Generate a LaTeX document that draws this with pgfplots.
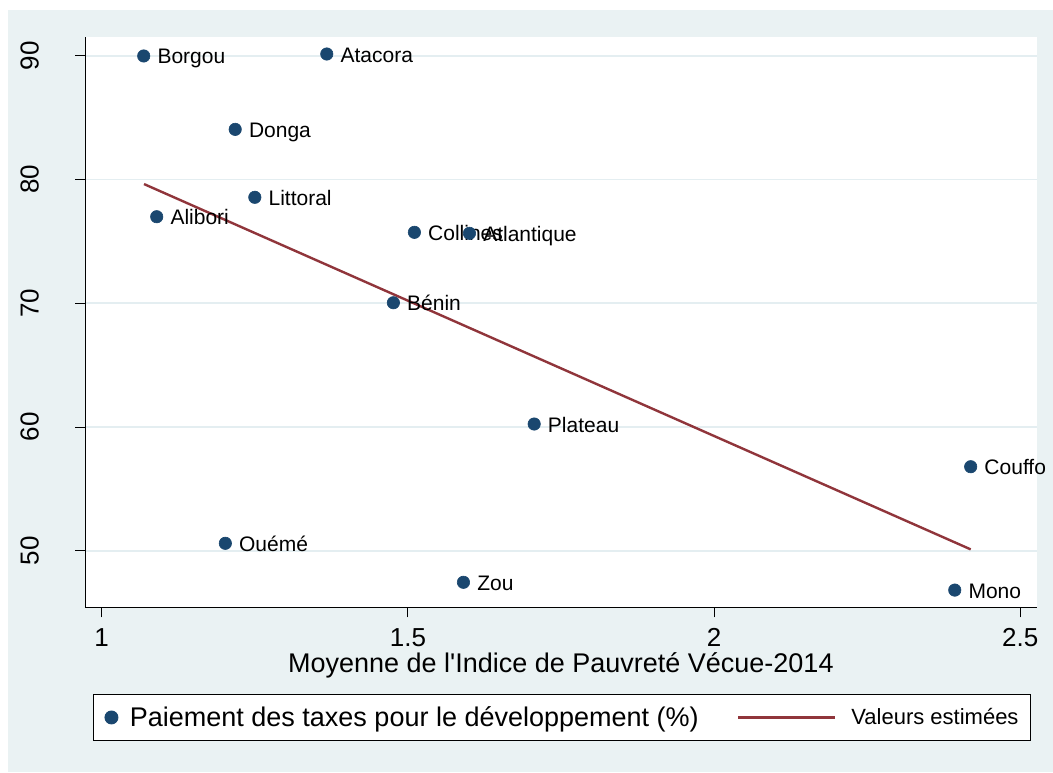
\documentclass[border=0pt]{standalone}
\usepackage{fontspec}
\setmainfont{Liberation Sans}
\newfontfamily\nolig{Liberation Sans}
\usepackage{pgfplots}
\pgfplotsset{compat=1.18}
\usepackage{pgfplotstable}
\definecolor{stbg}{RGB}{234,242,243}
\definecolor{stgrid}{RGB}{228,238,241}
\definecolor{stnavy}{RGB}{26,71,111}
\definecolor{stmaroon}{RGB}{144,53,59}

\pgfplotstableread{
x y label
1.0686 89.98 Borgou
1.3675 90.14 Atacora
1.2180 84.05 Donga
1.2500 78.56 Littoral
1.0898 76.99 Alibori
1.5106 75.73 Collines
1.6005 75.65 Atlantique
1.4763 70.04 Bénin
1.7062 60.24 Plateau
2.4190 56.79 Couffo
1.2019 50.60 Ouémé
1.5907 47.45 Zou
2.3930 46.82 Mono
}\datatable

\pgfplotstableread{
x y
1.0691 79.63
2.4190 50.11
}\fittable

\begin{document}
\begin{tikzpicture}
\path[use as bounding box] (0,0) rectangle (1053pt,772pt);
\fill[white] (0,0) rectangle (1053pt,772pt);
\fill[stbg] (8pt,0) rectangle (1053pt,762pt);
\begin{axis}[
  at={(85pt,164.7pt)}, anchor=south west,
  scale only axis, width=951.7pt, height=570pt,
  xmin=0.9727, xmax=2.5268, ymin=45.43, ymax=91.49,
  clip=false,
  axis background/.style={fill=white},
  axis x line*=bottom, axis y line*=left,
  axis line style={black, line width=0.9pt, -},
  xtick={1,1.5,2,2.5}, ytick={50,60,70,80,90},
  tick align=outside, major tick length=10pt,
  tick style={black, line width=0.9pt},
  ymajorgrids, major grid style={stgrid, line width=1.6pt},
  /pgf/number format/assume math mode=true,
  ticklabel style={font=\fontsize{26}{30}\selectfont, inner sep=0pt},
  xticklabel style={anchor=north},
  yticklabel style={rotate=90, anchor=south},
  xticklabel shift=11pt,
  yticklabel shift=36pt,
  every axis x label/.style={at={(axis description cs:0.5,-0.0784)}, anchor=north, inner sep=0pt, font=\fontsize{27}{31}\selectfont},
  xlabel={Moyenne de l{\nolig '}Indice de Pauvreté Vécue-2014},
  legend columns=2,
  legend cell align=left,
  legend style={at={(axis description cs:0.5007,-0.1933)}, anchor=center,
    draw=black, line width=0.9pt, fill=white,
    inner xsep=11.5pt, inner ysep=12pt, nodes={inner sep=0pt},
    /tikz/every odd column/.append style={column sep=11.5pt},
    /tikz/every even column/.append style={column sep=38pt}},
]
\addplot[only marks, mark=*, mark size=6.2pt, color=stnavy,
  mark options={draw=stnavy, fill=stnavy, line width=0.6pt},
  nodes near coords, point meta=explicit symbolic,
  nodes near coords align={anchor=base west},
  every node near coord/.append style={anchor=base west, xshift=13.5pt, yshift=-8pt, inner sep=0pt, text=black, font=\fontsize{21}{25}\selectfont},
  legend image code/.code={\path (-6.5pt,0pt) (6.5pt,0pt); \fill[stnavy] (0pt,0pt) circle (6.5pt);}
] table[x=x, y=y, meta=label] {\datatable};
\addlegendentry{\fontsize{27}{31}\selectfont Paiement des taxes pour le développement (\%)}
\addplot[stmaroon, line width=2.4pt, no marks,
  legend image code/.code={\draw[stmaroon, line width=3pt] (0pt,0pt) -- (97pt,0pt); \path (100.5pt,0pt);}
] table[x=x, y=y] {\fittable};
\addlegendentry{\fontsize{22}{26}\selectfont Valeurs estimées}
\end{axis}
\end{tikzpicture}
\end{document}
